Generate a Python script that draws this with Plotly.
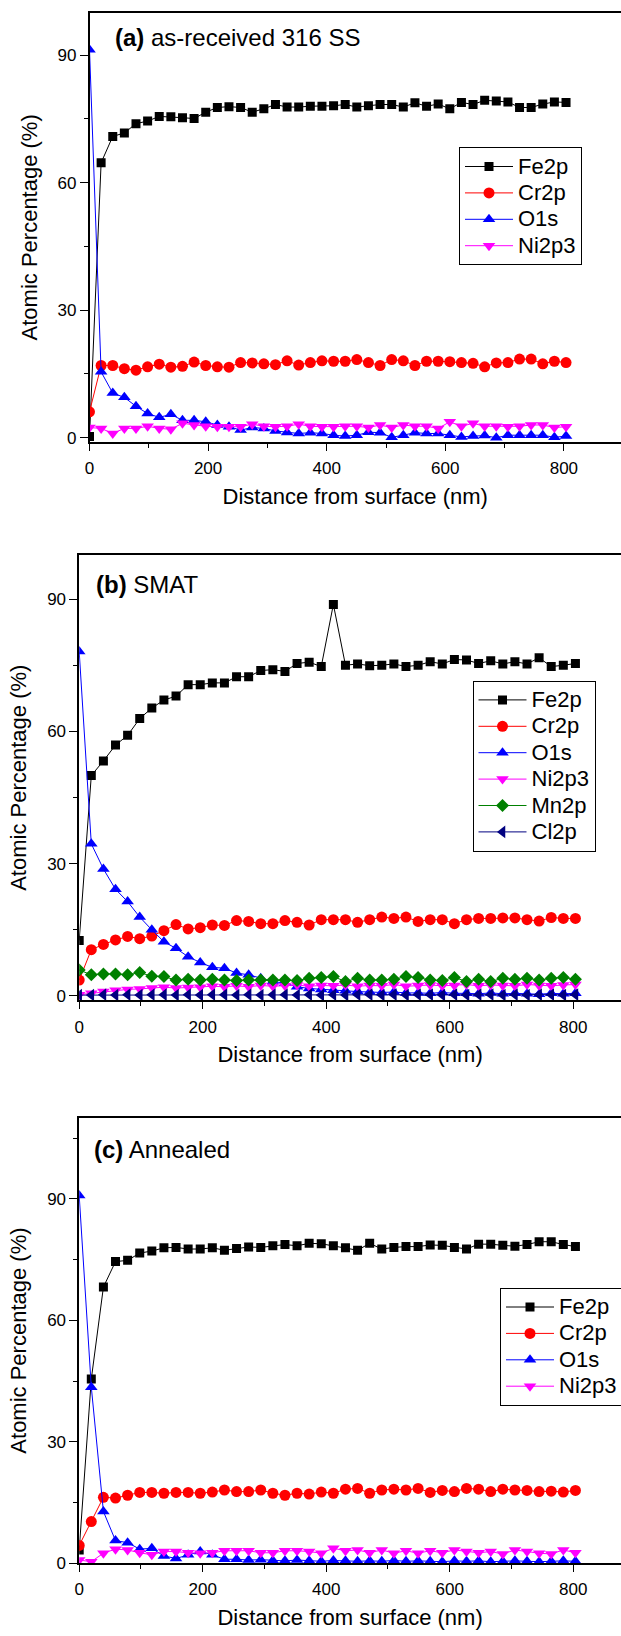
import plotly.graph_objects as go

FONT = "Liberation Sans, Arial, sans-serif"

# Depth (nm) of each sputtering step
depth = [0, 19.6, 39.2, 58.8, 78.4, 98, 117.6, 137.2, 156.8, 176.4, 196, 215.6, 235.2,
         254.8, 274.4, 294, 313.6, 333.2, 352.8, 372.4, 392, 411.6, 431.2, 450.8, 470.4,
         490, 509.6, 529.2, 548.8, 568.4, 588, 607.6, 627.2, 646.8, 666.4, 686, 705.6,
         725.2, 744.8, 764.4, 784, 803.6]

# (a) as-received 316 SS
fe_a = [0.3, 64.7, 70.9, 71.7, 73.9, 74.5, 75.6, 75.5, 75.3, 75.1, 76.6, 77.7, 77.9, 77.7,
        76.6, 77.4, 78.4, 77.8, 77.8, 78.0, 78.0, 78.1, 78.4, 77.8, 78.1, 78.4, 78.4, 77.8,
        78.8, 78.0, 78.5, 77.4, 78.9, 78.4, 79.4, 79.2, 79.0, 77.7, 77.7, 78.5, 79.0, 78.9]
cr_a = [6.1, 17.0, 17.0, 16.25, 15.9, 16.7, 17.3, 16.6, 16.8, 17.8, 17.0, 16.7, 16.6, 17.7,
        17.6, 17.4, 17.2, 18.1, 17.1, 17.7, 18.1, 18.0, 18.0, 18.4, 17.7, 17.0, 18.4, 18.1,
        17.0, 18.0, 18.0, 17.9, 17.7, 17.5, 16.7, 17.6, 17.7, 18.5, 18.5, 17.4, 18.0, 17.7]
o_a = [91.3, 15.5, 10.5, 9.5, 7.4, 5.7, 4.8, 5.5, 4.1, 4.1, 3.75, 3.0, 2.6, 1.8, 2.4, 2.2,
       1.6, 1.25, 1.0, 1.2, 1.0, 0.6, 0.4, 0.6, 1.3, 1.2, 0.1, 0.6, 1.2, 1.0, 1.0, 0.6, 0.2,
       0.4, 0.5, 0.0, 0.6, 0.6, 0.6, 0.6, 0.1, 0.4]
ni_a = [2.4, 2.2, 1.0, 2.2, 2.2, 2.7, 2.2, 2.0, 3.4, 3.0, 2.7, 2.6, 2.6, 2.6, 3.2, 2.7, 2.6,
        2.7, 3.2, 2.7, 2.6, 2.6, 2.7, 2.7, 2.4, 3.0, 2.4, 3.0, 2.7, 2.7, 2.2, 3.75, 2.7, 3.4,
        2.7, 2.7, 2.6, 2.7, 3.0, 3.0, 2.4, 2.6]

# (b) SMAT
fe_b = [12.6, 50.0, 53.3, 56.9, 59.1, 62.9, 65.3, 67.1, 68.0, 70.6, 70.6, 71.0, 71.0, 72.4,
        72.4, 73.8, 74.0, 73.6, 75.4, 75.7, 74.7, 88.8, 75.0, 75.3, 74.9, 75.0, 75.3, 74.7,
        75.0, 75.8, 75.3, 76.3, 76.2, 75.4, 76.0, 75.3, 75.8, 75.3, 76.7, 74.7, 75.0, 75.4]
cr_b = [3.6, 10.5, 11.7, 12.7, 13.5, 13.0, 13.6, 14.8, 16.2, 15.2, 15.5, 16.1, 16.0, 17.1,
        16.9, 16.4, 16.4, 17.1, 16.7, 16.1, 17.3, 17.3, 17.3, 16.7, 17.3, 17.9, 17.6, 17.9,
        16.9, 17.3, 17.3, 16.4, 17.3, 17.6, 17.6, 17.7, 17.7, 17.3, 17.0, 17.8, 17.6, 17.6]
o_b = [78.1, 34.5, 28.8, 24.2, 21.4, 17.9, 15.0, 12.3, 10.8, 8.9, 7.6, 6.5, 6.3, 5.2, 4.8,
       4.0, 3.3, 2.9, 2.1, 1.7, 1.5, 1.3, 1.2, 1.0, 0.9, 0.8, 0.9, 0.7, 0.7, 0.6, 0.8, 0.6,
       0.6, 0.5, 0.7, 0.5, 0.6, 0.5, 0.4, 0.6, 0.5, 0.6]
ni_b = [0.3, 0.6, 1.0, 1.3, 1.5, 1.6, 1.8, 2.0, 1.8, 1.9, 2.0, 2.2, 2.1, 2.3, 2.1, 2.4, 2.2,
        2.3, 2.5, 2.2, 2.4, 2.3, 2.5, 2.2, 2.4, 2.3, 2.6, 2.2, 2.4, 2.5, 2.3, 2.4, 2.6, 2.3,
        2.5, 2.4, 2.3, 2.6, 2.4, 2.3, 2.5, 2.6]
mn_b = [5.9, 4.8, 5.0, 5.0, 4.8, 5.3, 4.5, 4.4, 3.6, 3.8, 3.6, 3.8, 3.6, 3.5, 3.6, 3.6, 3.6,
        3.6, 3.5, 4.0, 4.2, 4.4, 3.3, 4.0, 3.6, 3.6, 3.8, 4.4, 4.2, 3.6, 3.5, 4.2, 3.3, 3.8,
        3.3, 4.0, 3.8, 4.0, 3.6, 4.0, 4.2, 3.8]
cl_b = [0.2, 0.2, 0.3, 0.2, 0.3, 0.2, 0.3, 0.3, 0.2, 0.3, 0.2, 0.3, 0.3, 0.2, 0.3, 0.2, 0.3,
        0.3, 0.2, 0.3, 0.2, 0.3, 0.2, 0.3, 0.3, 0.2, 0.3, 0.2, 0.3, 0.3, 0.2, 0.3, 0.2, 0.3,
        0.3, 0.2, 0.3, 0.2, 0.3, 0.3, 0.2, 0.3]

# (c) Annealed
fe_c = [3.3, 45.5, 68.2, 74.5, 74.8, 76.6, 77.1, 77.9, 78.0, 77.6, 77.6, 77.9, 77.3, 77.7,
        78.1, 78.0, 78.4, 78.7, 78.4, 79.0, 78.9, 78.4, 77.9, 77.3, 79.0, 77.6, 78.0, 78.2,
        78.2, 78.6, 78.5, 78.0, 77.6, 78.8, 78.8, 78.5, 78.3, 78.7, 79.4, 79.4, 78.7, 78.2]
cr_c = [4.4, 10.3, 16.3, 16.1, 16.8, 17.5, 17.5, 17.3, 17.5, 17.5, 17.3, 17.6, 18.1, 17.7,
        17.7, 18.1, 17.3, 16.8, 17.3, 17.1, 17.6, 17.3, 18.3, 18.5, 17.3, 18.1, 18.3, 18.1,
        18.5, 17.5, 18.0, 17.7, 18.5, 18.3, 17.7, 18.3, 18.1, 18.0, 17.7, 17.8, 17.6, 18.0]
o_c = [90.8, 43.5, 12.8, 5.6, 5.1, 3.5, 3.7, 1.8, 1.2, 2.1, 2.9, 2.1, 1.0, 1.0, 0.8, 0.9,
       0.7, 0.6, 0.8, 0.6, 0.5, 0.7, 0.6, 0.5, 0.6, 0.5, 0.7, 0.5, 0.6, 0.5, 0.4, 0.6, 0.5,
       0.6, 0.4, 0.5, 0.6, 0.5, 0.4, 0.5, 0.6, 0.5]
ni_c = [0.8, 0.4, 2.5, 3.5, 3.3, 2.6, 2.1, 2.9, 2.9, 2.6, 2.5, 2.6, 3.1, 3.1, 3.1, 2.6, 2.6,
        3.1, 3.1, 2.9, 2.5, 3.7, 3.1, 3.3, 2.6, 3.3, 2.5, 3.1, 2.5, 3.1, 2.6, 3.3, 2.9, 2.6,
        2.9, 2.3, 3.3, 2.9, 2.5, 2.3, 3.3, 2.6]

panel_titles = ["<b>(a)</b> as-received 316 SS", "<b>(b)</b> SMAT", "<b>(c)</b> Annealed"]
x_ticks = [0, 200, 400, 600, 800]
y_ticks = [0, 30, 60, 90]

STYLE = {
    "Fe2p": dict(color="#000000", symbol="square", size=9),
    "Cr2p": dict(color="#FF0000", symbol="circle", size=11),
    "O1s": dict(color="#0000FF", symbol="triangle-up", size=11),
    "Ni2p3": dict(color="#FF00FF", symbol="triangle-down", size=11),
    "Mn2p": dict(color="#008000", symbol="diamond", size=10),
    "Cl2p": dict(color="#000080", symbol="triangle-left", size=11),
}

panels = [
    dict(series=[("Fe2p", fe_a), ("Cr2p", cr_a), ("O1s", o_a), ("Ni2p3", ni_a)]),
    dict(series=[("Fe2p", fe_b), ("Cr2p", cr_b), ("O1s", o_b), ("Ni2p3", ni_b),
                 ("Mn2p", mn_b), ("Cl2p", cl_b)]),
    dict(series=[("Fe2p", fe_c), ("Cr2p", cr_c), ("O1s", o_c), ("Ni2p3", ni_c)]),
]

W, H = 621, 1636
# layout geometry (pixels)
geom = [
    dict(left=89.5, top=12.7, bottom=442.0, xr=[0, 896.3], yr=[-1, 100],
         leg=(459, 147.3), title=(113, 37)),
    dict(left=79.2, top=555.0, bottom=1000.4, xr=[0, 877.4], yr=[-1, 100],
         leg=(472.5, 680.7), title=(94, 584)),
    dict(left=79.2, top=1117.8, bottom=1563.3, xr=[0, 877.4], yr=[0, 110],
         leg=(500, 1287.8), title=(92, 1149)),
]

fig = go.Figure()
layout = dict(width=W, height=H, margin=dict(l=0, r=0, t=0, b=0, autoexpand=False),
              paper_bgcolor="white", plot_bgcolor="white",
              font=dict(family=FONT, color="black"), showlegend=True, annotations=[])

for k, (p, g) in enumerate(zip(panels, geom)):
    sfx = "" if k == 0 else str(k + 1)
    legname = "legend" + sfx
    for name, vals in p["series"]:
        st = STYLE[name]
        fig.add_trace(go.Scatter(
            x=depth, y=vals, name='<span style="font-size:22px">%s</span>' % name,
            mode="lines+markers",
            line=dict(color=st["color"], width=1),
            marker=dict(symbol=st["symbol"], size=st["size"], color=st["color"],
                        line=dict(width=0)),
            xaxis="x" + sfx, yaxis="y" + sfx, legend=legname,
        ))
    axis_common = dict(showgrid=False, zeroline=False, showline=True, linecolor="black",
                       linewidth=1.5, ticks="outside", tickwidth=1.3,
                       tickcolor="black", tickfont=dict(size=17, family=FONT, color="black"))
    layout["xaxis" + sfx] = dict(
        axis_common, domain=[g["left"] / W, 1], range=g["xr"], anchor="y" + sfx,
        tickvals=x_ticks, mirror=True, ticklen=7, ticklabelstandoff=3,
        minor=dict(dtick=100, tick0=0, ticklen=4, ticks="outside", tickcolor="black", tickwidth=1.3),
        title=dict(text="Distance from surface (nm)", font=dict(size=22, family=FONT), standoff=11),
    )
    layout["yaxis" + sfx] = dict(
        axis_common, domain=[1 - g["bottom"] / H, 1 - g["top"] / H], range=g["yr"],
        anchor="x" + sfx, tickvals=y_ticks, ticklen=8,
        minor=dict(dtick=15, tick0=0, ticklen=4, ticks="outside", tickcolor="black", tickwidth=1.3),
        title=dict(text="Atomic Percentage (%)", font=dict(size=22, family=FONT), standoff=14),
    )
    layout[legname] = dict(x=g["leg"][0] / W, y=1 - g["leg"][1] / H, xanchor="left", yanchor="top",
                           bordercolor="black", borderwidth=1, bgcolor="white",
                           font=dict(size=18, family=FONT, color="black"), itemwidth=48,
                           tracegroupgap=0)
    layout["annotations"].append(dict(
        text=panel_titles[k], x=g["title"][0] / W, y=1 - g["title"][1] / H, xref="paper", yref="paper",
        xanchor="left", yanchor="middle", showarrow=False, font=dict(size=24, family=FONT, color="black")))

fig.update_layout(**layout)
fig.write_html("out.html")
